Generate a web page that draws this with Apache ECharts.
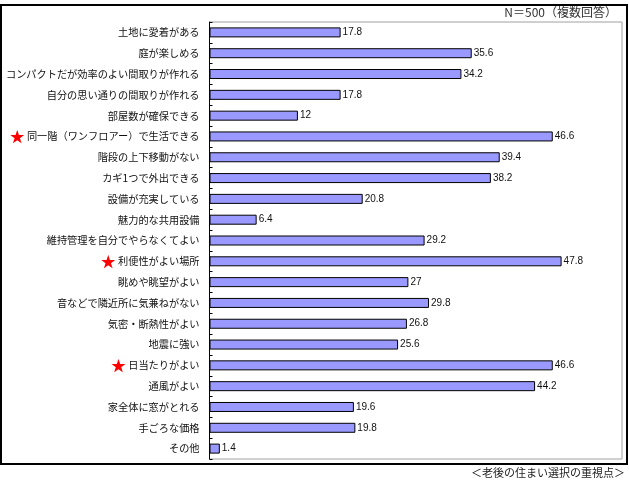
<!DOCTYPE html>
<html>
<head>
<meta charset="utf-8">
<script src="https://cdn.jsdelivr.net/npm/echarts@6/dist/echarts.min.js"></script>
<style>
html,body{margin:0;padding:0;background:#fff;}
#c{width:629px;height:485px;}
</style>
</head>
<body>
<div id="c"></div>
<script>
const categories = [
  '土地に愛着がある',
  '庭が楽しめる',
  'コンパクトだが効率のよい間取りが作れる',
  '自分の思い通りの間取りが作れる',
  '部屋数が確保できる',
  '同一階（ワンフロアー）で生活できる',
  '階段の上下移動がない',
  'カギ1つで外出できる',
  '設備が充実している',
  '魅力的な共用設備',
  '維持管理を自分でやらなくてよい',
  '利便性がよい場所',
  '眺めや眺望がよい',
  '音などで隣近所に気兼ねがない',
  '気密・断熱性がよい',
  '地震に強い',
  '日当たりがよい',
  '通風がよい',
  '家全体に窓がとれる',
  '手ごろな価格',
  'その他'
];
const values = [17.8, 35.6, 34.2, 17.8, 12, 46.6, 39.4, 38.2, 20.8, 6.4, 29.2, 47.8, 27, 29.8, 26.8, 25.6, 46.6, 44.2, 19.6, 19.8, 1.4];
const starred = ['同一階（ワンフロアー）で生活できる', '利便性がよい場所', '日当たりがよい'];
const titleText = 'N＝500（複数回答）';
const footerText = '＜老後の住まい選択の重視点＞';

const chart = echarts.init(document.getElementById('c'), null, {renderer: 'canvas'});
const jp = '"Noto Sans CJK JP", sans-serif';
chart.setOption({
  animation: false,
  backgroundColor: '#fff',
  grid: {
    left: 209.5, right: 7, top: 22, bottom: 26,
    show: true, borderColor: '#a0a0a0', borderWidth: 1, backgroundColor: 'transparent'
  },
  xAxis: {
    type: 'value', min: 0, max: 56,
    axisLine: {show: false}, axisTick: {show: false}, axisLabel: {show: false},
    splitLine: {show: false}
  },
  yAxis: {
    type: 'category', data: categories, inverse: true,
    axisLine: {show: true, lineStyle: {color: '#000', width: 1}},
    axisTick: {show: true, inside: true, length: 3, lineStyle: {color: '#000'}},
    axisLabel: {
      margin: 10, fontSize: 10.2, color: '#111', fontFamily: jp,
      formatter: function (v) {
        return starred.indexOf(v) >= 0 ? '{s|★} ' + v : v;
      },
      rich: {s: {color: '#ff0000', fontSize: 15, fontFamily: jp}}
    }
  },
  series: [{
    type: 'bar', data: values, barWidth: 10,
    itemStyle: {color: '#9999ff', borderColor: '#000', borderWidth: 1},
    label: {show: true, position: 'right', distance: 2, fontSize: 10, color: '#111',
      fontFamily: 'Liberation Sans, sans-serif'}
  }],
  graphic: [
    {type: 'rect', shape: {x: 1, y: 5, width: 626, height: 459},
      style: {fill: 'none', stroke: '#000', lineWidth: 2}, silent: true},
    {type: 'text', right: 12, top: 6,
      style: {text: titleText, fontSize: 12, fill: '#333', fontFamily: jp}},
    {type: 'text', right: 4, top: 467,
      style: {text: footerText, fontSize: 11, fill: '#222', fontFamily: jp}}
  ]
});
</script>
</body>
</html>
